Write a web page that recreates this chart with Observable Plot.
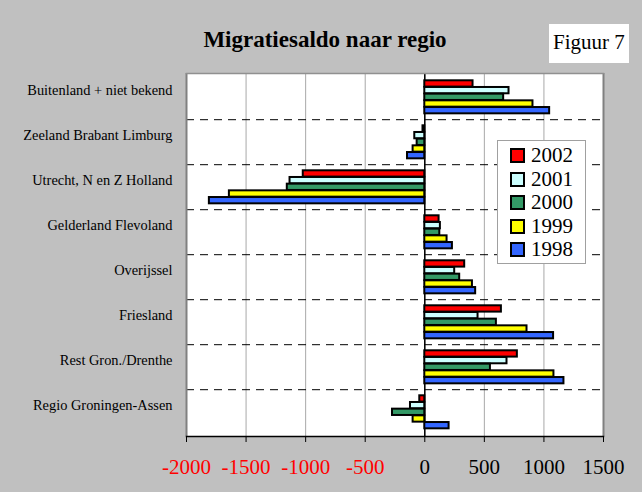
<!DOCTYPE html>
<html>
<head>
<meta charset="utf-8">
<script src="https://cdn.jsdelivr.net/npm/d3@7"></script>
<script src="https://cdn.jsdelivr.net/npm/@observablehq/plot@0.6"></script>
<style>
  html, body { margin: 0; padding: 0; background: #c0c0c0; }
  #wrap { position: relative; width: 642px; height: 492px; background: #c0c0c0; font-family: "Liberation Serif", "DejaVu Serif", serif; overflow: hidden; }
  #chart { position: absolute; left: 0; top: 0; }
  #title { position: absolute; left: 0; width: 650px; top: 28px; text-align: center; font-size: 23px; line-height: 23px; font-weight: bold; color: #000; font-family: "Liberation Serif", serif; }
  #fig { position: absolute; left: 549px; top: 24px; width: 80px; height: 39px; background: #fff; box-sizing: border-box; padding-top: 8px; text-align: center; font-size: 21px; line-height: 21px; font-family: "Liberation Serif", serif; }
  #legend { position: absolute; left: 497px; top: 140px; width: 89px; height: 124px; background: #fff; border: 1px solid #a0a0a0; box-sizing: border-box; }
  .item { position: absolute; left: 12px; height: 22px; font-size: 21px; line-height: 22px; font-family: "Liberation Serif", serif; }
  .sw { position: absolute; left: 0; top: 4px; width: 15px; height: 15px; border: 2px solid #000; box-sizing: border-box; }
  .lab { position: absolute; left: 21px; top: 0; white-space: nowrap; font-family: "Liberation Serif", serif; }
</style>
</head>
<body>
<div id="wrap">
  <div id="chart"></div>
  <div id="title">Migratiesaldo naar regio</div>
  <div id="fig">Figuur 7</div>
  <div id="legend"></div>
</div>
<script>
const categories = [
  "Buitenland + niet bekend",
  "Zeeland Brabant Limburg",
  "Utrecht, N en Z Holland",
  "Gelderland Flevoland",
  "Overijssel",
  "Friesland",
  "Rest Gron./Drenthe",
  "Regio Groningen-Assen"
];
const years = ["2002", "2001", "2000", "1999", "1998"];
const colors = ["#ff0000", "#ccffff", "#339966", "#ffff00", "#3366ff"];
const v2002 = [405, -15, -1020, 120, 335, 643, 777, -42];
const v2001 = [707, -84, -1131, 131, 251, 447, 690, -120];
const v2000 = [662, -64, -1154, 126, 293, 601, 551, -271];
const v1999 = [908, -98, -1640, 187, 400, 858, 1084, -98];
const v1998 = [1048, -145, -1808, 232, 427, 1081, 1168, 204];
const series = [v2002, v2001, v2000, v1999, v1998];
const xTicks = [-2000, -1500, -1000, -500, 0, 500, 1000, 1500];

const W = 642, H = 492, mt = 73, mb = 56, ml = 186, mr = 39;
const band = (H - mt - mb) / categories.length;
const barTop = 5.3, stride = 6.68;

const data = years.map((yr, i) => categories.map((c, j) => ({category: c, year: yr, value: series[i][j]})));

const plot = Plot.plot({
  width: W, height: H,
  marginTop: mt, marginBottom: mb, marginLeft: ml, marginRight: mr,
  style: {fontFamily: "Liberation Serif, serif", background: "transparent", color: "#000"},
  x: {domain: [-2000, 1500]},
  y: {domain: categories, padding: 0},
  marks: [
    Plot.frame({fill: "white", stroke: "none"}),
    Plot.gridX(xTicks, {stroke: "#a8a8a8", strokeOpacity: 1}),
    Plot.ruleY(categories.slice(0, -1), {dy: band / 2 - 1, stroke: "#000", strokeDasharray: "8,6"}),
    Plot.ruleX([0], {stroke: "#000", strokeWidth: 1.5}),
    ...years.map((yr, i) => Plot.barX(data[i], {
      x: "value", y: "category", fill: colors[i], stroke: "#000", strokeWidth: 2,
      insetTop: barTop + i * stride,
      insetBottom: band - barTop - (i + 1) * stride
    })),
    Plot.ruleX([-2000, 1500], {stroke: "#808080", strokeWidth: 2}),
    Plot.frame({anchor: "top", stroke: "#909090", strokeWidth: 1.5}),
    Plot.frame({anchor: "bottom", stroke: "#000", strokeWidth: 1.5}),
    Plot.axisX(xTicks.filter(d => d < 0), {tickSize: 6, tickPadding: 17, fontSize: 21, fill: "#ff0000", stroke: "#000", tickFormat: d => String(d), label: null}),
    Plot.axisX(xTicks.filter(d => d >= 0), {tickSize: 6, tickPadding: 17, fontSize: 21, fill: "#000", tickFormat: d => String(d), label: null}),
    Plot.axisY({tickSize: 0, tickPadding: 14, fontSize: 14.4, dy: -8, label: null})
  ]
});
document.getElementById("chart").appendChild(plot);

const legend = document.getElementById("legend");
years.forEach((yr, i) => {
  const it = document.createElement("div");
  it.className = "item";
  it.style.top = (3 + i * 23.6) + "px";
  it.innerHTML = `<div class="sw" style="background:${colors[i]}"></div><div class="lab">${yr}</div>`;
  legend.appendChild(it);
});
</script>
</body>
</html>
